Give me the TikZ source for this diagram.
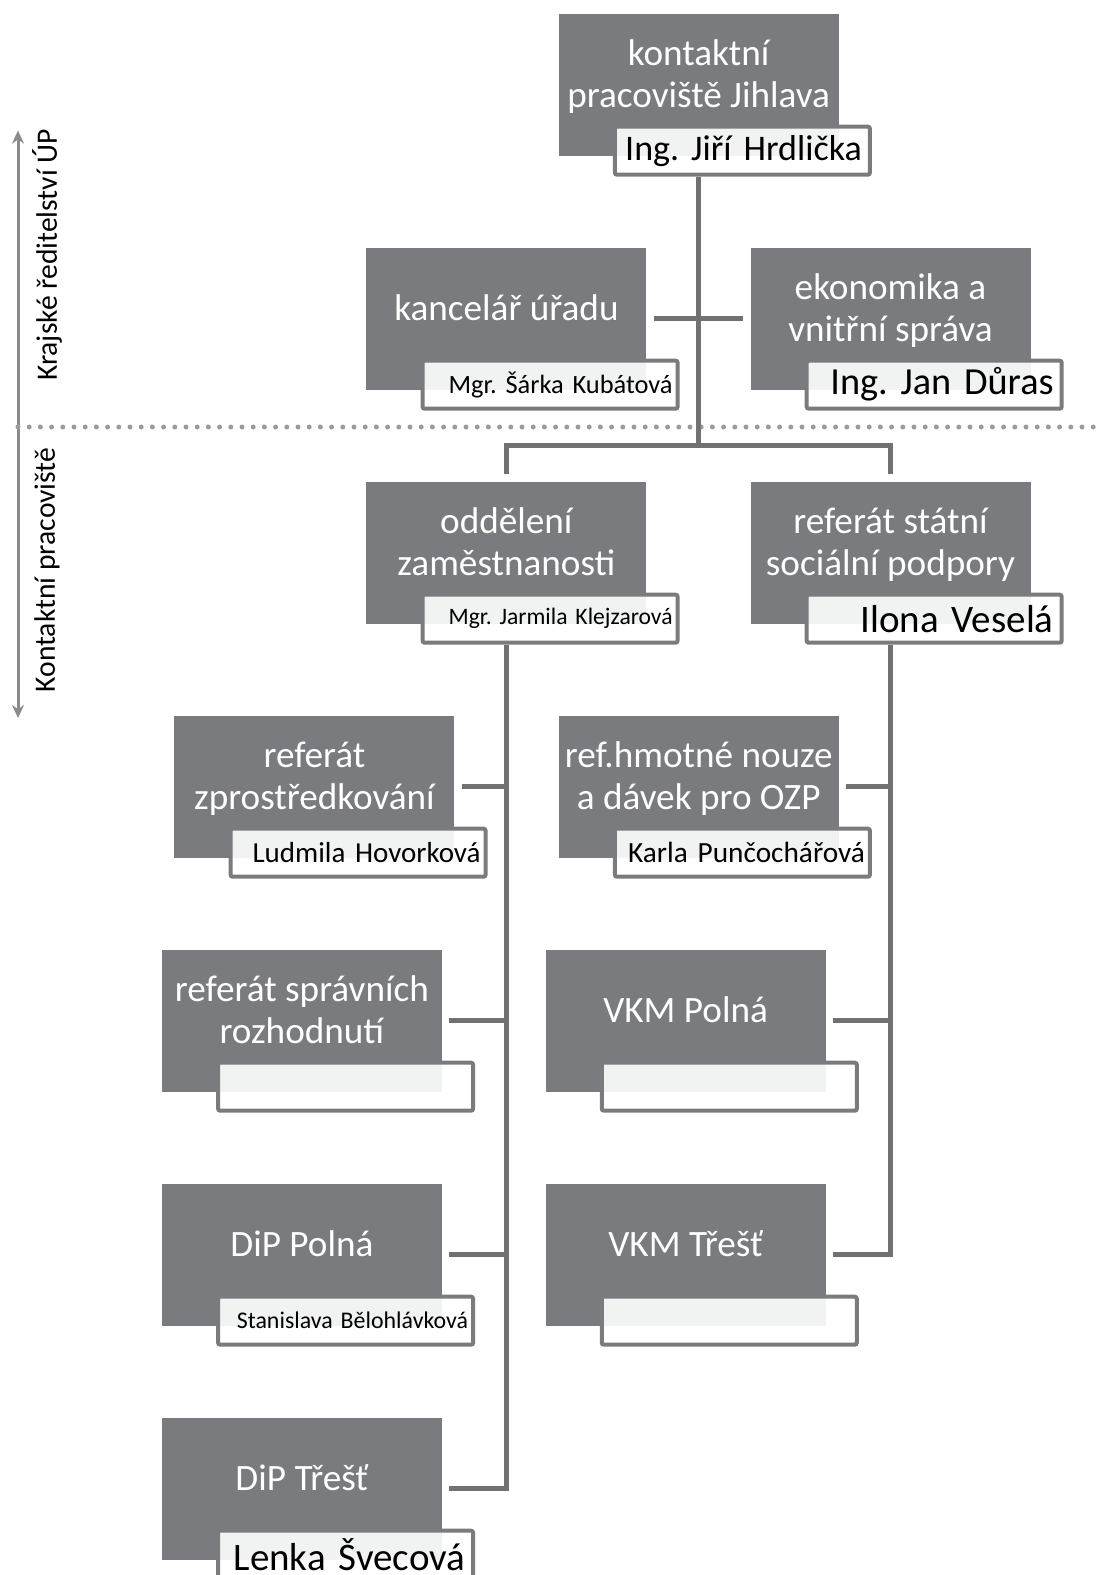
\documentclass[tikz,border=0pt]{standalone}
\usepackage{fontspec}
\setmainfont{Carlito}
\frenchspacing
\usetikzlibrary{arrows.meta,calc}

\definecolor{boxgray}{RGB}{122,123,127}
\definecolor{linegray}{RGB}{112,113,117}
\definecolor{dotgray}{RGB}{155,155,158}

\begin{document}
\begin{tikzpicture}[x=1pt, y=-1pt,
    unit/.style={fill=boxgray, minimum width=280pt, minimum height=142pt, inner sep=0pt},
    title/.style={text=white, align=center, text depth=0pt,
      font=\fontsize{37.2}{42}\selectfont},
    person/.style={draw=boxgray, line width=4pt, fill=white, fill opacity=0.9,
      text opacity=1, rounded corners=2pt, minimum width=255pt, minimum height=48pt,
      text width=239pt, inner xsep=8pt, align=right},
    small/.style={text width=245pt, inner xsep=5pt},
    link/.style={draw=linegray, line width=5pt},
    dots/.style={draw=dotgray, line width=5pt, line cap=round,
      dash pattern=on 0pt off 11.2pt},
    span/.style={draw=dotgray!90!black, line width=3pt,
      {Stealth[length=13pt,width=12pt]}-{Stealth[length=13pt,width=12pt]}},
    side/.style={rotate=90, font=\fontsize{29.6}{34}\selectfont}
  ]
  \useasboundingbox (0,0) rectangle (1096,1575);

  % side axis
  \coordinate (up) at (18,130.6);
  \coordinate (down) at (18,718);
  \draw[span] (up) -- (down);
  \node[side] (kr) at (47,255) {Krajské ředitelství ÚP};
  \node[side] (kpl) at (47,570) {Kontaktní pracoviště};
  \coordinate (d0) at (18,427);
  \coordinate (d1) at (1096,427);
  \draw[dots] (d0) -- (d1);

  % units
  \node[unit] (kp) at (698.7,84.5) {};
  \node[title] at ([yshift=10.5pt]kp.center) {kontaktní\\pracoviště Jihlava};
  \node[person, font=\fontsize{36}{40}\selectfont] (kpn) at ([xshift=-96.5pt,yshift=5pt]kp.south east) {Ing. Jiří Hrdlička};

  \node[unit] (ku) at (506.4,318.5) {};
  \node[title] at ([yshift=10.5pt]ku.center) {kancelář úřadu};
  \node[person, small, font=\fontsize{26.4}{30}\selectfont] (kun) at ([xshift=-96.5pt,yshift=5pt]ku.south east) {Mgr. Šárka Kubátová};

  \node[unit] (ek) at (890.5,318.5) {};
  \node[title] at ([yshift=10.5pt]ek.center) {ekonomika a\\vnitřní správa};
  \node[person, font=\fontsize{38.3}{42}\selectfont] (ekn) at ([xshift=-96.5pt,yshift=5pt]ek.south east) {Ing. Jan Důras};

  \node[unit] (oz) at (506.4,552.5) {};
  \node[title] at ([yshift=10.5pt]oz.center) {oddělení\\zaměstnanosti};
  \node[person, small, font=\fontsize{23.6}{28}\selectfont] (ozn) at ([xshift=-96.5pt,yshift=5pt]oz.south east) {Mgr. Jarmila Klejzarová};

  \node[unit] (sp) at (890.5,552.5) {};
  \node[title] at ([yshift=10.5pt]sp.center) {referát státní\\sociální podpory};
  \node[person, font=\fontsize{39}{42}\selectfont] (spn) at ([xshift=-96.5pt,yshift=5pt]sp.south east) {Ilona Veselá};

  \node[unit] (rz) at (314.4,786.5) {};
  \node[title] at ([yshift=10.5pt]rz.center) {referát\\zprostředkování};
  \node[person, small, font=\fontsize{29}{32}\selectfont] (rzn) at ([xshift=-96.5pt,yshift=5pt]rz.south east) {Ludmila Hovorková};

  \node[unit] (hn) at (698.7,786.5) {};
  \node[title] at ([yshift=10.5pt]hn.center) {ref.hmotné nouze\\a dávek pro OZP};
  \node[person, small, font=\fontsize{29.3}{32}\selectfont] (hnn) at ([xshift=-96.5pt,yshift=5pt]hn.south east) {Karla Punčochářová};

  \node[unit] (rsr) at (301.9,1020.5) {};
  \node[title] at ([yshift=10.5pt]rsr.center) {referát správních\\rozhodnutí};
  \node[person] (rsrn) at ([xshift=-96.5pt,yshift=5pt]rsr.south east) {};

  \node[unit] (vp) at (685.6,1020.5) {};
  \node[title] at ([yshift=10.5pt]vp.center) {VKM Polná};
  \node[person] (vpn) at ([xshift=-96.5pt,yshift=5pt]vp.south east) {};

  \node[unit] (dp) at (301.9,1254.5) {};
  \node[title] at ([yshift=10.5pt]dp.center) {DiP Polná};
  \node[person, small, font=\fontsize{23.9}{28}\selectfont] (dpn) at ([xshift=-96.5pt,yshift=5pt]dp.south east) {Stanislava Bělohlávková};

  \node[unit] (vt) at (685.6,1254.5) {};
  \node[title] at ([yshift=10.5pt]vt.center) {VKM Třešť};
  \node[person] (vtn) at ([xshift=-96.5pt,yshift=5pt]vt.south east) {};

  \node[unit] (dt) at (301.9,1488.5) {};
  \node[title] at ([yshift=10.5pt]dt.center) {DiP Třešť};
  \node[person, font=\fontsize{39}{42}\selectfont] (dtn) at ([xshift=-96.5pt,yshift=5pt]dt.south east) {Lenka Švecová};

  % connectors
  \coordinate (fork) at (698.7,445);
  \draw[link] (kpn.south -| kp.south) -- (fork);
  \draw[link] ([xshift=7pt]ku.east) -- ([xshift=-7pt]ek.west);
  \draw[link] ([yshift=7pt]oz.north) |- (fork) -| ([yshift=7pt]sp.north);
  \draw[link] (ozn.south -| oz.south) |- ([xshift=7pt]dt.east);
  \draw[link] ([xshift=7pt]rz.east) -- (rz.east -| oz.south);
  \draw[link] ([xshift=7pt]rsr.east) -- (rsr.east -| oz.south);
  \draw[link] ([xshift=7pt]dp.east) -- (dp.east -| oz.south);
  \draw[link] (spn.south -| sp.south) |- ([xshift=7pt]vt.east);
  \draw[link] ([xshift=7pt]hn.east) -- (hn.east -| sp.south);
  \draw[link] ([xshift=7pt]vp.east) -- (vp.east -| sp.south);
\end{tikzpicture}
\end{document}
